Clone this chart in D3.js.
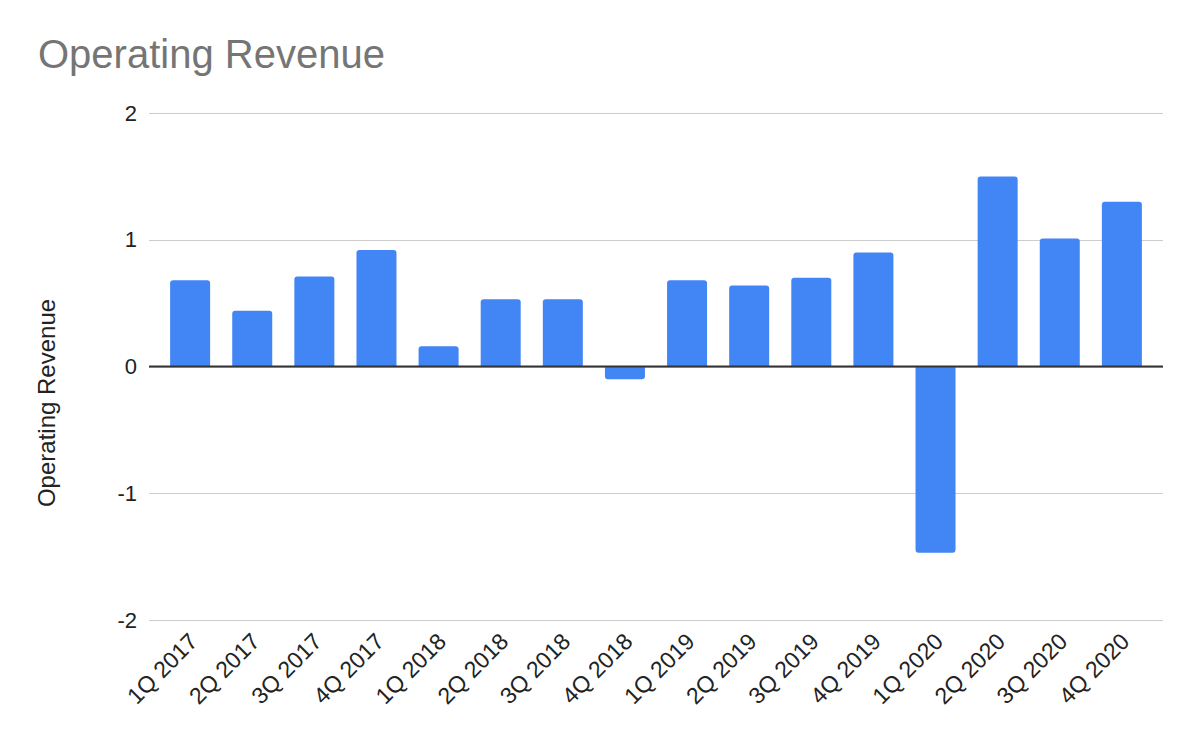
<!DOCTYPE html>
<html>
<head>
<meta charset="utf-8">
<script src="https://cdn.jsdelivr.net/npm/d3@7"></script>
<style>
  body { margin: 0; background: #fff; }
  svg { display: block; font-family: "Liberation Sans", Arial, sans-serif; }
</style>
</head>
<body>
<svg></svg>
<script>
const quarters = ["1Q 2017","2Q 2017","3Q 2017","4Q 2017","1Q 2018","2Q 2018","3Q 2018","4Q 2018",
                  "1Q 2019","2Q 2019","3Q 2019","4Q 2019","1Q 2020","2Q 2020","3Q 2020","4Q 2020"];
const revenue = [0.68, 0.44, 0.71, 0.92, 0.16, 0.53, 0.53, -0.10,
                 0.68, 0.64, 0.70, 0.90, -1.47, 1.50, 1.01, 1.30];
const yTicks = [-2, -1, 0, 1, 2];

const width = 1200, height = 742;
const svg = d3.select('svg')
    .attr('width', width)
    .attr('height', height);

const x = d3.scaleBand()
    .domain(quarters)
    .range([149, 1163])
    .paddingInner(0.356)
    .paddingOuter(0.34);

const y = d3.scaleLinear()
    .domain([-2, 2])
    .range([620, 113]);

// title
svg.append('text')
    .text("Operating Revenue")
    .attr('x', 38)
    .attr('y', 68)
    .attr('fill', '#757575')
    .attr('font-size', '40px');

// gridlines + y tick labels
const yAxis = svg.append('g')
    .attr('transform', 'translate(149,0)')
    .call(d3.axisLeft(y).tickValues(yTicks).tickSize(-1014).tickFormat(d => String(d)).tickPadding(12));
yAxis.select('.domain').remove();
yAxis.selectAll('.tick line')
    .attr('stroke', '#cccccc')
    .attr('shape-rendering', 'crispEdges');
yAxis.selectAll('.tick text')
    .attr('fill', '#222')
    .attr('font-size', '22px')
    .attr('font-family', '"Liberation Sans", Arial, sans-serif');

// y axis title
svg.append('text')
    .text("Operating Revenue")
    .attr('transform', 'translate(55,403) rotate(-90)')
    .attr('text-anchor', 'middle')
    .attr('fill', '#222')
    .attr('font-size', '24px');

// bars, rounded at the outer end
const r = 3;
function barPath(d, i) {
    const x0 = x(quarters[i]), w = x.bandwidth();
    const y0 = y(0), y1 = y(d);
    if (d >= 0) {
        return `M${x0},${y0} V${y1 + r} Q${x0},${y1} ${x0 + r},${y1} H${x0 + w - r} Q${x0 + w},${y1} ${x0 + w},${y1 + r} V${y0} Z`;
    }
    return `M${x0},${y0} V${y1 - r} Q${x0},${y1} ${x0 + r},${y1} H${x0 + w - r} Q${x0 + w},${y1} ${x0 + w},${y1 - r} V${y0} Z`;
}
svg.append('g')
    .selectAll('path')
    .data(revenue)
    .join('path')
    .attr('d', barPath)
    .attr('fill', '#4285f4');

// zero baseline
svg.append('line')
    .attr('x1', 149)
    .attr('x2', 1163)
    .attr('y1', y(0))
    .attr('y2', y(0))
    .attr('stroke', '#333333')
    .attr('stroke-width', 2);

// x labels
svg.append('g')
    .selectAll('text')
    .data(quarters)
    .join('text')
    .text(d => d)
    .attr('transform', d => `translate(${x(d) + x.bandwidth() / 2 + 9},643) rotate(-45)`)
    .attr('text-anchor', 'end')
    .attr('fill', '#222')
    .attr('font-size', '23px');
</script>
</body>
</html>
